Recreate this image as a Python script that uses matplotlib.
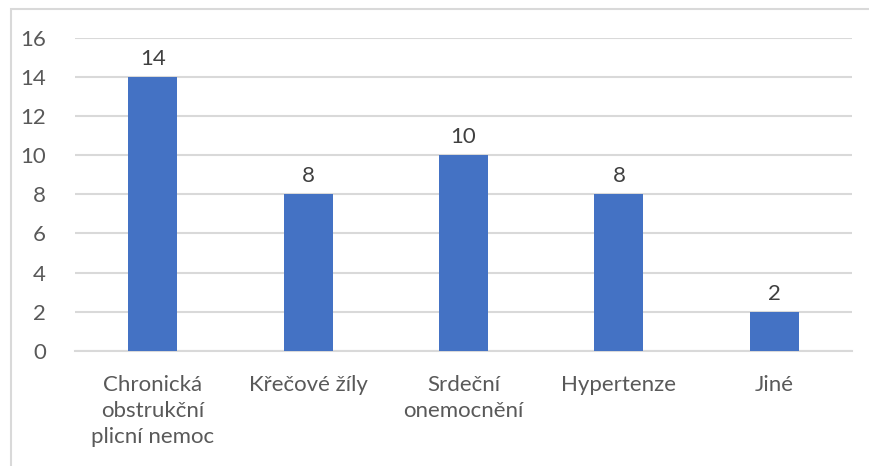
import matplotlib
matplotlib.use("Agg")
import matplotlib.pyplot as plt
from matplotlib.patches import Rectangle

# data
categories = ["Chronická\nobstrukční\nplicní nemoc", "Křečové žíly",
              "Srdeční\nonemocnění", "Hypertenze", "Jiné"]
values = [14, 8, 10, 8, 2]

bar_color = "#4472C4"
grid_color = "#D9D9D9"
text_color = "#595959"

plt.rcParams["font.family"] = ["Lato", "DejaVu Sans"]

W, H = 869, 466
fig = plt.figure(figsize=(W / 100, H / 100), dpi=100)
ax = fig.add_axes([75 / W, 1 - 351 / H, (852 - 75) / W, (351 - 37.5) / H])

x = range(len(categories))
bars = ax.bar(x, values, width=0.315, color=bar_color, zorder=3)

# value labels above the bars
for b, v in zip(bars, values):
    ax.annotate(str(v), (b.get_x() + b.get_width() / 2, v), xytext=(0, 8),
                textcoords="offset pixels", ha="center", va="bottom",
                fontsize=16, color="#404040")

ax.set_xlim(-0.5, len(categories) - 0.5)
ax.set_ylim(0, 16)
ax.set_yticks(range(0, 17, 2))
ax.set_xticks(list(x))
ax.set_xticklabels(categories, linespacing=1.4)
ax.yaxis.grid(True, color=grid_color, linewidth=1.5, zorder=0)
ax.tick_params(axis="both", length=0, labelsize=16, colors=text_color)
ax.tick_params(axis="y", pad=21)
ax.tick_params(axis="x", pad=17)
for s in ["top", "right", "left"]:
    ax.spines[s].set_visible(False)
ax.spines["bottom"].set_color(grid_color)
ax.spines["bottom"].set_linewidth(1.5)

# outer chart border (cut off at right and bottom in the reference)
fig.patches.append(Rectangle((11 / W, -0.1), 1.2, 1 - 9 / H + 0.1,
                             transform=fig.transFigure, fill=False,
                             edgecolor=grid_color, linewidth=1.5))

fig.savefig("out.png", dpi=100)
